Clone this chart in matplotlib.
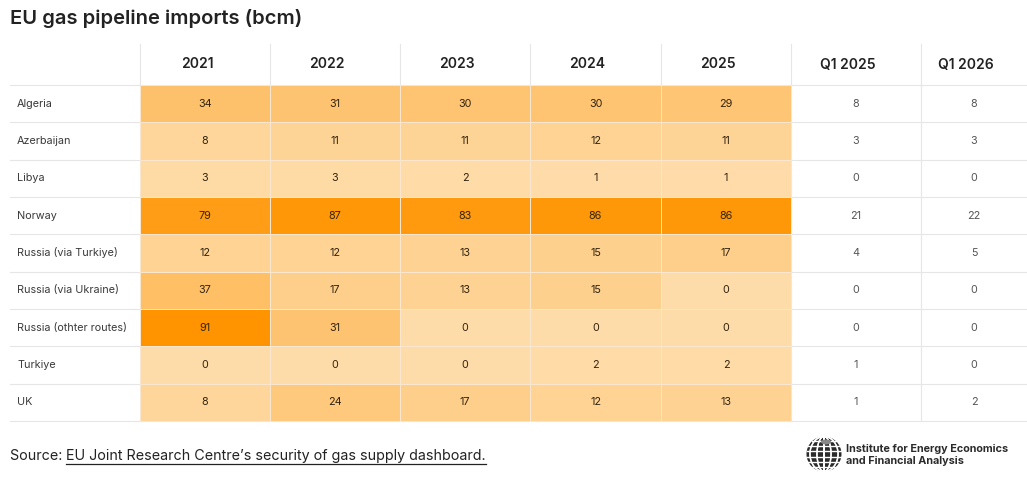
import matplotlib
matplotlib.use("Agg")
import matplotlib.pyplot as plt
import numpy as np
from matplotlib.colors import LinearSegmentedColormap, Normalize
from matplotlib.patches import Circle, Ellipse

plt.rcParams['font.family'] = ['Inter', 'DejaVu Sans']

title = "EU gas pipeline imports (bcm)"
countries = ["Algeria", "Azerbaijan", "Libya", "Norway", "Russia (via Turkiye)",
             "Russia (via Ukraine)", "Russia (othter routes)", "Turkiye", "UK"]
col_headers = ["2021", "2022", "2023", "2024", "2025", "Q1 2025", "Q1 2026"]
y2021 = [34, 8, 3, 79, 12, 37, 91, 0, 8]
y2022 = [31, 11, 3, 87, 12, 17, 31, 0, 24]
y2023 = [30, 11, 2, 83, 13, 13, 0, 0, 17]
y2024 = [30, 12, 1, 86, 15, 15, 0, 2, 12]
y2025 = [29, 11, 1, 86, 17, 0, 0, 2, 13]
q1_2025 = [8, 3, 0, 21, 4, 0, 0, 1, 1]
q1_2026 = [8, 3, 0, 22, 5, 0, 0, 0, 2]
source_prefix = "Source: "
source_link = "EU Joint Research Centre\u2019s security of gas supply dashboard."
logo_text = "Institute for Energy Economics\nand Financial Analysis"

W, H = 1027, 482
fig = plt.figure(figsize=(W / 100, H / 100), dpi=100)
ax = fig.add_axes([0, 0, 1, 1])
ax.set_xlim(0, W)
ax.set_ylim(H, 0)
ax.axis("off")

# layout (pixels)
col_edges = [10, 140, 270, 400, 530, 661, 791, 921, 1027]
head_top, head_bot, body_bot = 44, 85, 421
n = len(countries)
row_edges = np.linspace(head_bot, body_bot, n + 1)
row_c = (row_edges[:-1] + row_edges[1:]) / 2

# heatmap part
annual = np.array([y2021, y2022, y2023, y2024, y2025]).T
cmap = LinearSegmentedColormap.from_list("o", ["#fedcaa", "#ff9400"])
norm = Normalize(vmin=0, vmax=91)
ax.pcolormesh(col_edges[1:7], row_edges, annual, cmap=cmap, norm=norm,
              edgecolors="#f9e6cf", linewidth=0.6, zorder=1)

# grid lines
for y in row_edges:
    ax.plot([col_edges[0], col_edges[-1]], [y, y], color="#e6e6e6", lw=0.8, zorder=0.5)
for x in col_edges[1:-1]:
    ax.plot([x, x], [head_top, head_bot], color="#e6e6e6", lw=0.8, zorder=0.5)
for x in col_edges[6:8]:
    ax.plot([x, x], [head_bot, body_bot], color="#e6e6e6", lw=0.8, zorder=0.5)

# headers
for j, h in enumerate(col_headers):
    xc = (col_edges[j + 1] + col_edges[j + 2]) / 2 - 8
    ax.text(xc, (head_top + head_bot) / 2, h, ha="center", va="center",
            fontsize=10, fontweight="semibold", color="#222222")

# rows
allcols = [y2021, y2022, y2023, y2024, y2025, q1_2025, q1_2026]
for i, c in enumerate(countries):
    ax.text(17, row_c[i], c, ha="left", va="center", fontsize=7.8, color="#3a3a3a")
    for j, vals in enumerate(allcols):
        xc = (col_edges[j + 1] + col_edges[j + 2]) / 2
        color = "#33240f" if j < 5 else "#555555"
        ax.text(xc, row_c[i], str(vals[i]), ha="center", va="center",
                fontsize=7.8, color=color)

# title
ax.text(10, 18, title, ha="left", va="center", fontsize=14.5,
        fontweight="semibold", color="#222222")

# source with underline
t1 = ax.text(10, 456, source_prefix, ha="left", va="center", fontsize=10.3, color="#222222")
fig.canvas.draw()
r = fig.canvas.get_renderer()
bb = t1.get_window_extent(r)
t2 = ax.text(bb.x1, 456, source_link, ha="left", va="center", fontsize=10.3,
             color="#222222")
fig.canvas.draw()
bb2 = t2.get_window_extent(r)
ax.plot([bb2.x0, bb2.x1], [463.5, 463.5], color="#222222", lw=0.9)

# logo
gx, gy, gr = 824, 454, 17.5
ax.add_patch(Circle((gx, gy), gr, facecolor="#2b2b2b", edgecolor="none", zorder=3))
for k in np.linspace(-0.8, 0.8, 5):
    ax.add_patch(Ellipse((gx, gy), 2 * gr * abs(k) + 0.1, 2 * gr, facecolor="none",
                         edgecolor="white", lw=1.0, zorder=4))
for k in np.linspace(-0.75, 0.75, 6):
    yy = gy + gr * k
    half = gr * np.sqrt(1 - k ** 2)
    ax.plot([gx - half, gx + half], [yy, yy], color="white", lw=1.0, zorder=4)
ax.add_patch(Ellipse((gx + 2, gy - 12), 10, 5, facecolor="#888888", edgecolor="none", zorder=5))
ax.text(846, 455, logo_text, ha="left", va="center", fontsize=7.8,
        fontweight="bold", color="#2b2b2b", linespacing=1.15)

fig.savefig("out.png", dpi=100)
